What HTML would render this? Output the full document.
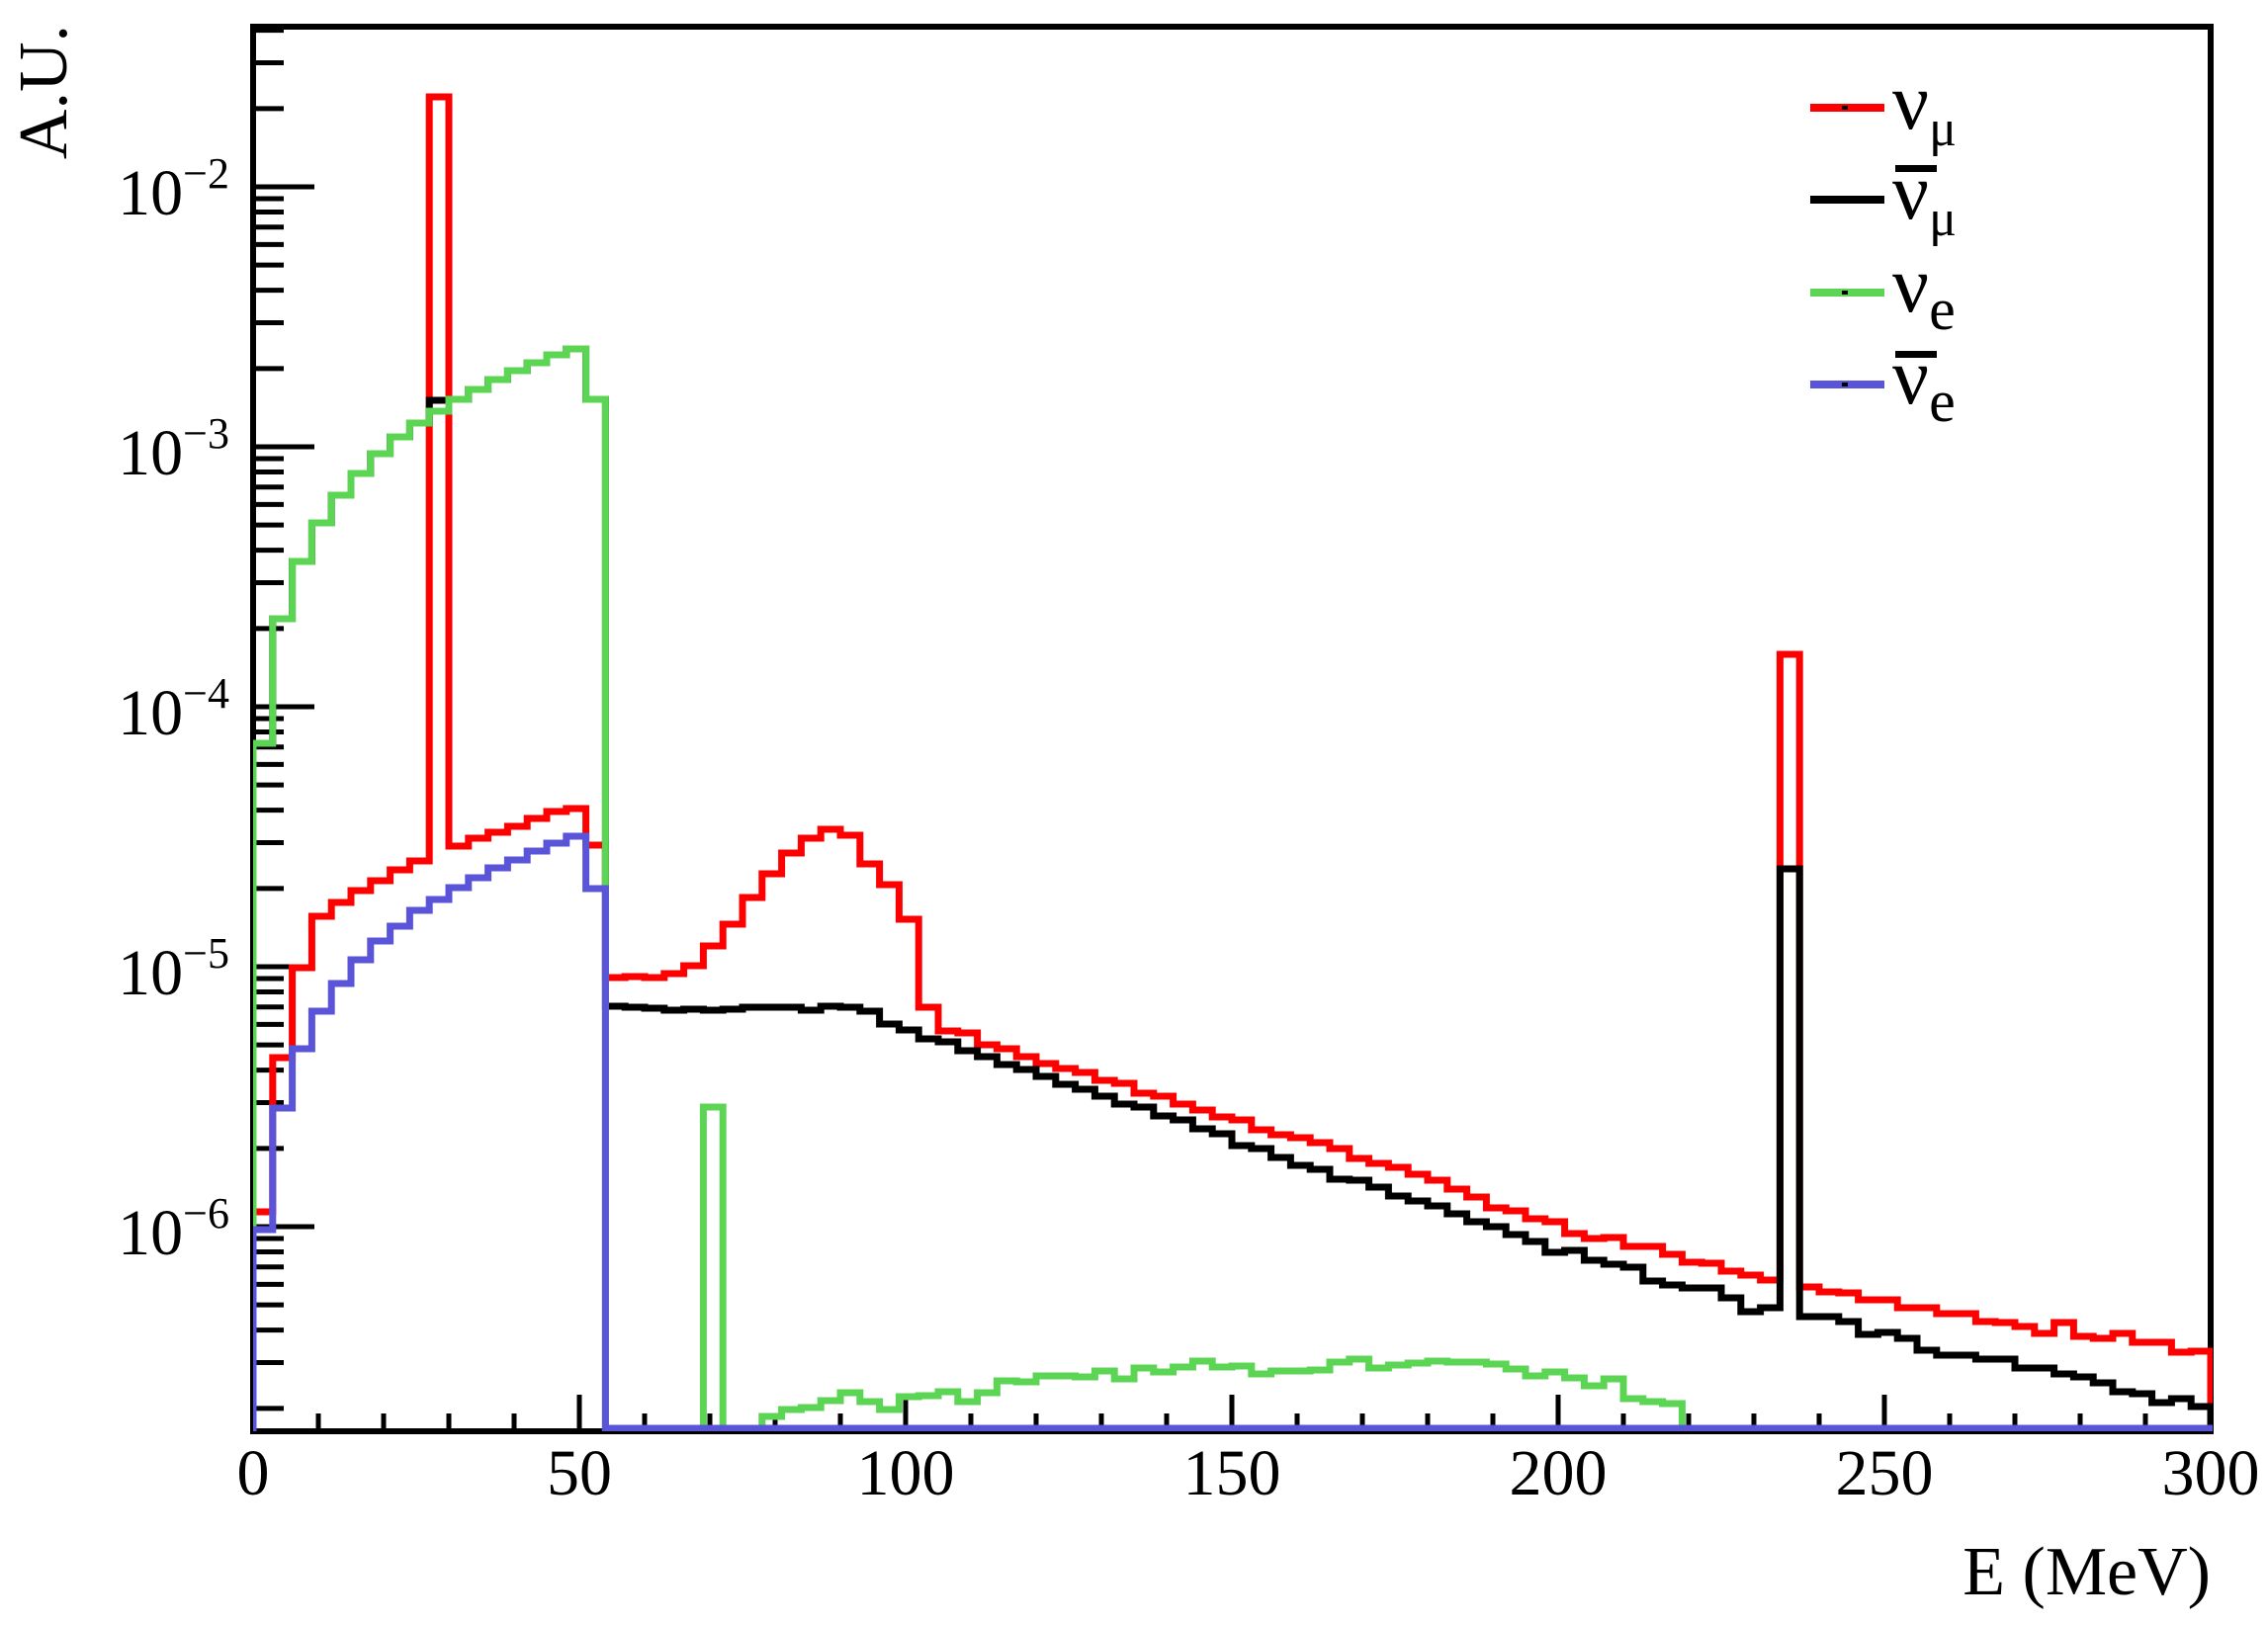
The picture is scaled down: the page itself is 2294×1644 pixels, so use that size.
<!DOCTYPE html>
<html><head><meta charset="utf-8"><style>
html,body{margin:0;padding:0;background:#fff}
svg{display:block}
text{font-family:"Liberation Serif","DejaVu Serif",serif;fill:#000}
</style></head><body>
<svg id="s" width="2294" height="1644" viewBox="0 0 2294 1644" xmlns="http://www.w3.org/2000/svg">
<defs><clipPath id="c"><rect x="256" y="20" width="1982" height="1428"/></clipPath></defs>
<rect width="2294" height="1644" fill="#fff"/>
<g id="ticks" stroke="#000" stroke-width="5"></g>
<rect x="256" y="27" width="1980" height="1421" fill="none" stroke="#000" stroke-width="6"/>
<g clip-path="url(#c)" fill="none" stroke-width="7" stroke-linejoin="miter" stroke-linecap="square">
<path id="pr" stroke="#ff0000"/>
<path id="pk" stroke="#000000"/>
<path id="pg" stroke="#5cd454"/>
<path id="pb" stroke="#5a55d8"/>
</g>
<g id="labels" font-size="66"></g>
<text x="2236" y="1613" font-size="70" text-anchor="end">E (MeV)</text>
<text transform="translate(67,25) rotate(-90)" font-size="70" text-anchor="end">A.U.</text>
<!-- legend -->
<g>
<rect x="1831" y="105" width="75" height="8" fill="#ff0000"/><rect x="1863" y="107" width="6" height="4" fill="#000"/>
<rect x="1831" y="198" width="75" height="8" fill="#000"/>
<rect x="1831" y="292" width="75" height="8" fill="#5cd454"/><rect x="1863" y="294" width="6" height="4" fill="#000"/>
<rect x="1831" y="385" width="75" height="8" fill="#5a55d8"/><rect x="1863" y="387" width="6" height="4" fill="#000"/>
<text x="1914" y="130" font-size="82">ν<tspan font-size="52" dy="17">μ</tspan></text>
<rect x="1917" y="167" width="42" height="7" fill="#000"/>
<text x="1914" y="221" font-size="82">ν<tspan font-size="52" dy="17">μ</tspan></text>
<text x="1914" y="315" font-size="82">ν<tspan font-size="60" dy="18">e</tspan></text>
<rect x="1917" y="355" width="42" height="7" fill="#000"/>
<text x="1914" y="408" font-size="82">ν<tspan font-size="60" dy="18">e</tspan></text>
</g>
</svg>
<script>
(function(){
var NS="http://www.w3.org/2000/svg";
var X0=256,SX=6.6,BOT=1445,AX=1447;
function xo(E){return X0+E*SX;}
function yv(v){return 189-263*(Math.log10(v)+2);}
var tk=document.getElementById('ticks'),lb=document.getElementById('labels');
function line(x1,y1,x2,y2){var l=document.createElementNS(NS,'line');l.setAttribute('x1',x1);l.setAttribute('y1',y1);l.setAttribute('x2',x2);l.setAttribute('y2',y2);tk.appendChild(l);}
for(var e=0;e<=300;e+=10){var x=xo(e);var maj=(e%50==0);line(x,AX,x,AX-(maj?36:17));}
for(var e=0;e<=300;e+=50){var t=document.createElementNS(NS,'text');t.setAttribute('x',xo(e));t.setAttribute('y',1512);t.setAttribute('text-anchor','middle');t.textContent=String(e);lb.appendChild(t);}
for(var d=-7;d<=-1;d++){for(var m=1;m<=9;m++){var v=m*Math.pow(10,d);var y=yv(v);if(y<30||y>1446)continue;line(256,y,256+(m==1?62:31),y);}}
for(var d=-6;d<=-2;d++){var y=yv(Math.pow(10,d));var t=document.createElementNS(NS,'text');t.setAttribute('x',232);t.setAttribute('y',y+28);t.setAttribute('text-anchor','end');t.appendChild(document.createTextNode('10'));var s=document.createElementNS(NS,'tspan');s.setAttribute('font-size','44');s.setAttribute('dy','-27');s.textContent='\u2212'+(-d);t.appendChild(s);lb.appendChild(t);}
var B=BOT;
var red=[1226,1070,979,927,913,901,891,880,871,98,856,848,842,836,828,821,818,855,
989,988,989,985,977,957,935,908,884,863,848,839,845,874,895,930,1019,1043,1045,1057,1061,1069,1076,1081,1085,1093,1096,1106,1109,1117,1123,1130,
1133,1143,1148,1151,1156,1162,1172,1177,1181,1188,1194,1203,1211,1222,1225,1233,1236,1248,1253,1252,1261,1261,1269,1277,1278,1286,1290,1295,662,
1302,1307,1308,1315,1315,1323,1323,1329,1329,1337,1338,1342,1349,1338,1352,1354,1349,1358,1358,1368,1367];
var blk=[752,626,568,529,501,479,459,442,428,405,404,394,384,375,367,359,353,404,
1018,1019,1020,1022,1021,1022,1021,1019,1019,1019,1022,1018,1019,1023,1036,1042,1051,1054,1063,1069,1077,1082,1089,1097,1102,1109,1117,1120,1129,1133,1142,1147,
1159,1162,1171,1179,1183,1193,1194,1201,1210,1215,1220,1228,1236,1241,1249,1256,1267,1265,1275,1279,1282,1296,1300,1303,1303,1313,1327,1323,879,
1332,1332,1337,1350,1348,1354,1366,1371,1371,1375,1375,1384,1384,1390,1393,1399,1408,1410,1419,1415,1423];
var grn=[752,626,568,529,501,479,459,442,428,416,404,394,384,375,367,359,353,404,
B,B,B,B,B,1120,B,B,
1433,1426,1424,1417,1409,1418,1426,1413,1412,1408,1418,1409,1397,1398,1392,1392,1393,1387,1395,1384,1388,1383,1377,1383,1382,1390,1387,1387,1386,1378,1375,1384,1381,1379,1377,1378,1378,1380,1385,1392,1388,1394,1402,1395,1415,1418,1420];
while(grn.length<100)grn.push(B);
var blu=[1244,1121,1061,1023,995,971,952,937,921,910,898,888,878,870,861,853,846,899];
while(blu.length<100)blu.push(B);
function path(a){var d='M'+xo(0)+','+(AX+10);for(var i=0;i<100;i++){d+=' V'+a[i]+' H'+xo(3*(i+1)).toFixed(1);}d+=' V'+(AX+10);return d;}
document.getElementById('pr').setAttribute('d',path(red));
document.getElementById('pk').setAttribute('d',path(blk));
document.getElementById('pg').setAttribute('d',path(grn));
document.getElementById('pb').setAttribute('d',path(blu));
})();
</script>
</body></html>
